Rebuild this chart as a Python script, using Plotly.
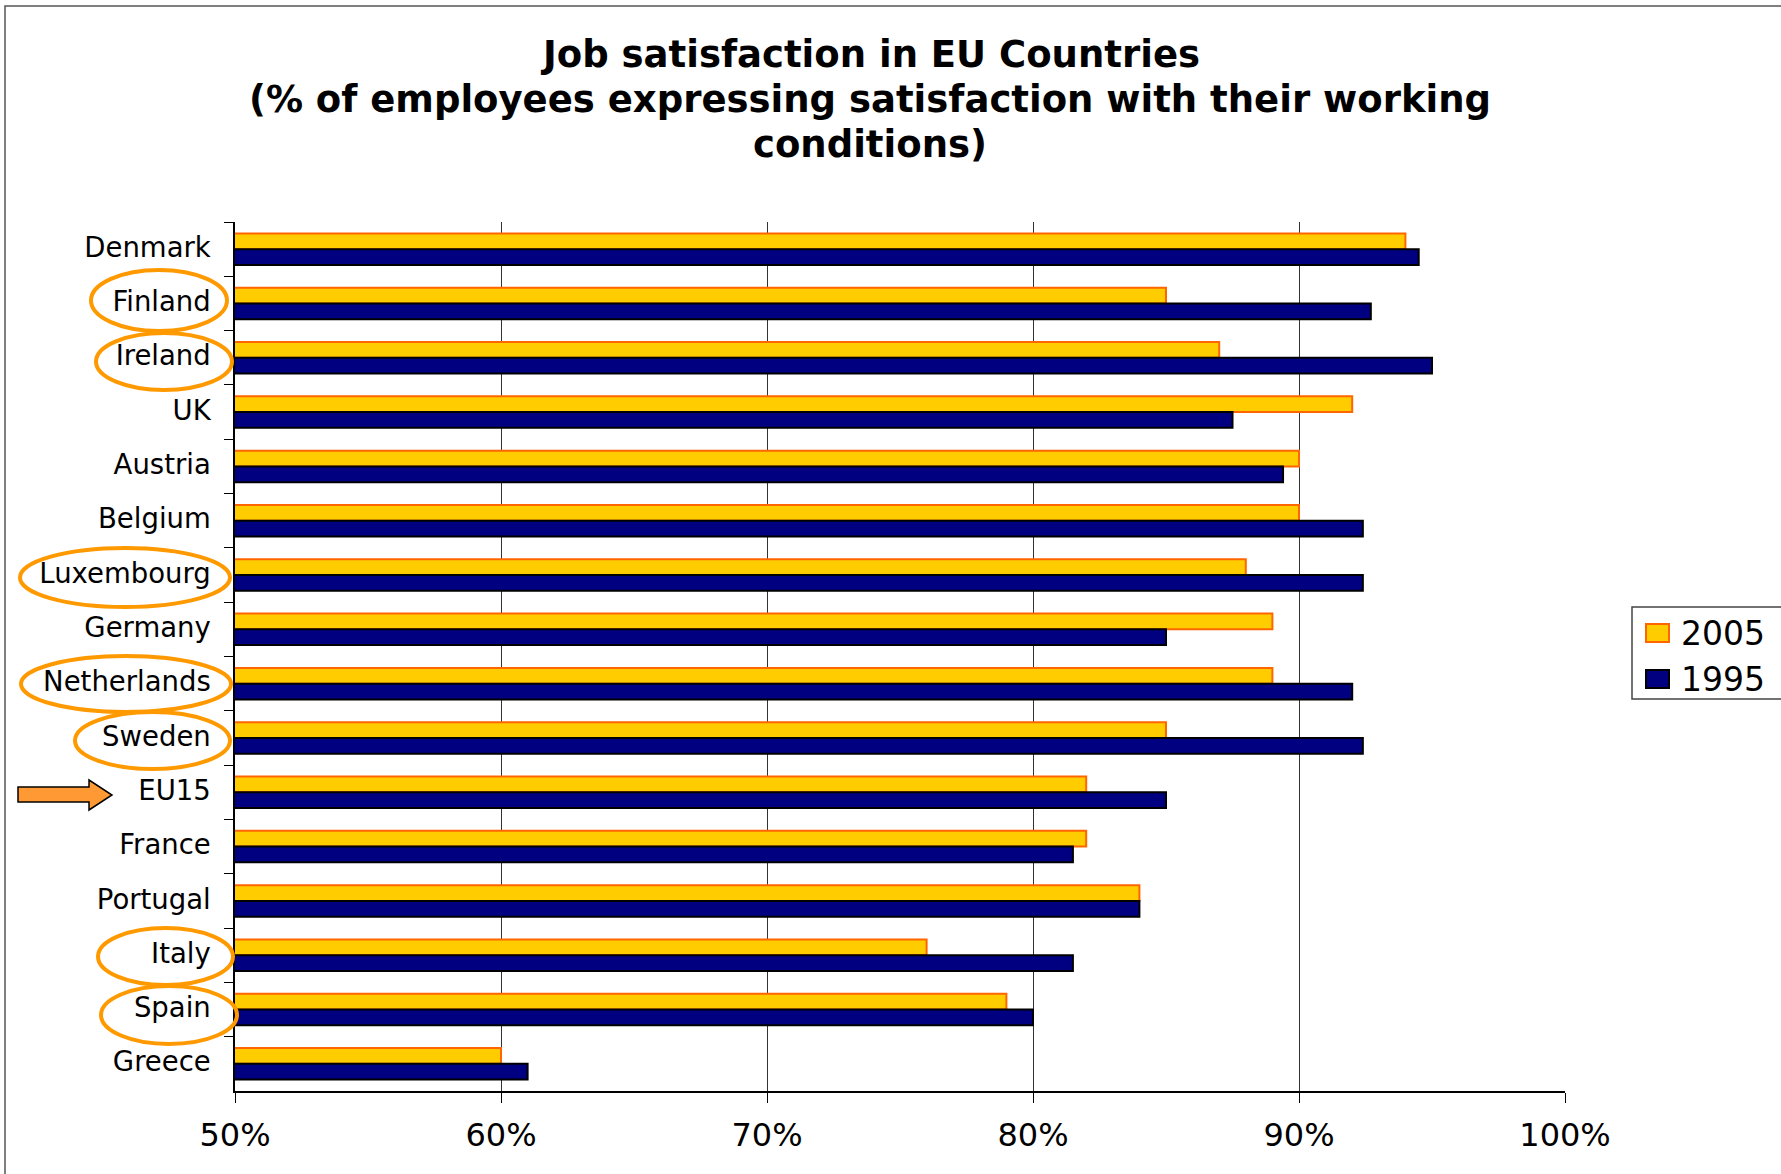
import plotly.graph_objects as go

# Survey data: share of employees satisfied with working conditions (%)
countries = ["Denmark", "Finland", "Ireland", "UK", "Austria", "Belgium",
             "Luxembourg", "Germany", "Netherlands", "Sweden", "EU15",
             "France", "Portugal", "Italy", "Spain", "Greece"]
sat_2005 = [94, 85, 87, 92, 90, 90, 88, 89, 89, 85, 82, 82, 84, 76, 79, 60]
sat_1995 = [94.5, 92.7, 95, 87.5, 89.4, 92.4, 92.4, 85, 92, 92.4, 85, 81.5, 84, 81.5, 80, 61]
series_names = ["2005", "1995"]

# Countries whose satisfaction fell between the two surveys
circled = ["Finland", "Ireland", "Luxembourg", "Netherlands", "Sweden", "Italy", "Spain"]
highlight = "EU15"

title_lines = [
    "Job satisfaction in EU Countries",
    "(% of employees expressing satisfaction with their working",
    "conditions)",
]

W, H = 1781, 1174
L, R, T, B = 235, 216, 222, 83
FONT = "DejaVu Sans, Arial, sans-serif"


def px_x(p):
    return (p - L) / (W - L - R)


def px_y(p):
    return (H - B - p) / (H - T - B)


fig = go.Figure()
fig.add_trace(go.Bar(
    y=countries, x=sat_2005, orientation="h", name=series_names[0],
    marker=dict(color="#FFCC00", line=dict(color="#FF6600", width=2)),
))
fig.add_trace(go.Bar(
    y=countries, x=sat_1995, orientation="h", name=series_names[1],
    marker=dict(color="#000080", line=dict(color="#000000", width=2)),
))

shapes = []
annotations = []

# Outer chart frame (top and left edges visible)
shapes.append(dict(type="rect", xref="paper", yref="paper",
                   x0=px_x(5), x1=px_x(W + 20), y0=px_y(H + 20), y1=px_y(6),
                   line=dict(color="#555555", width=1.5), layer="below"))

# Title, one annotation per line
for text, yc in zip(title_lines, [54, 99, 144]):
    annotations.append(dict(text=f"<b>{text}</b>", xref="paper", yref="paper",
                            x=px_x(870), y=px_y(yc), xanchor="center", yanchor="middle",
                            showarrow=False, font=dict(family=FONT, size=37, color="#000000")))

# Orange ellipses around the circled country labels
ellipse_boxes = {
    "Finland": (91, 227, 270, 331),
    "Ireland": (96, 232, 333, 390),
    "Luxembourg": (20, 230, 548, 607),
    "Netherlands": (21, 231, 656, 712),
    "Sweden": (75, 230, 712, 769),
    "Italy": (98, 233, 928, 985),
    "Spain": (101, 237, 986, 1044),
}
for name in circled:
    x0, x1, y0, y1 = ellipse_boxes[name]
    shapes.append(dict(type="circle", xref="paper", yref="paper",
                       x0=px_x(x0), x1=px_x(x1), y0=px_y(y1), y1=px_y(y0),
                       line=dict(color="#FF9900", width=4)))

# Arrow pointing at the EU15 average
arrow_pts = [(18, 787), (89, 787), (89, 780), (112, 795), (89, 810), (89, 802), (18, 802)]
path = "M" + " L".join(f"{px_x(a):.5f},{px_y(b):.5f}" for a, b in arrow_pts) + " Z"
shapes.append(dict(type="path", xref="paper", yref="paper", path=path,
                   fillcolor="#FF9933", line=dict(color="#000000", width=1.5)))

# Legend box with swatches
shapes.append(dict(type="rect", xref="paper", yref="paper",
                   x0=px_x(1632), x1=px_x(1800), y0=px_y(699), y1=px_y(607),
                   line=dict(color="#444444", width=1.5), fillcolor="white"))
legend_styles = [("#FFCC00", "#FF6600", 633), ("#000080", "#000000", 679)]
for name, (fill, edge, yc) in zip(series_names, legend_styles):
    shapes.append(dict(type="rect", xref="paper", yref="paper",
                       x0=px_x(1646), x1=px_x(1669), y0=px_y(yc + 9), y1=px_y(yc - 9),
                       fillcolor=fill, line=dict(color=edge, width=2)))
    annotations.append(dict(text=name, xref="paper", yref="paper",
                            x=px_x(1679), y=px_y(yc), xanchor="left", yanchor="middle",
                            showarrow=False, font=dict(family=FONT, size=33, color="#000000")))

fig.update_layout(
    width=W, height=H,
    margin=dict(l=L, r=R, t=T, b=B, pad=0),
    paper_bgcolor="white", plot_bgcolor="white",
    barmode="group", bargap=0.42, bargroupgap=0,
    showlegend=False,
    shapes=shapes, annotations=annotations,
    xaxis=dict(
        range=[50, 100], tick0=50, dtick=10, ticksuffix="%",
        showgrid=True, gridcolor="#333333", gridwidth=1,
        showline=True, linecolor="#000000", linewidth=1.5,
        ticks="outside", ticklen=10, tickcolor="#000000", tickwidth=1,
        tickfont=dict(family=FONT, size=32, color="#000000"),
        zeroline=False, ticklabelstandoff=5,
    ),
    yaxis=dict(
        type="category", autorange="reversed",
        showline=True, linecolor="#000000", linewidth=1.5,
        ticks="outside", ticklen=9, tickcolor="#000000", tickwidth=1,
        tickson="boundaries", showgrid=False,
        tickfont=dict(family=FONT, size=27.5, color="#000000"),
        ticklabelstandoff=17, ticklabelshift=2,
    ),
)

fig.write_html("out.html")
